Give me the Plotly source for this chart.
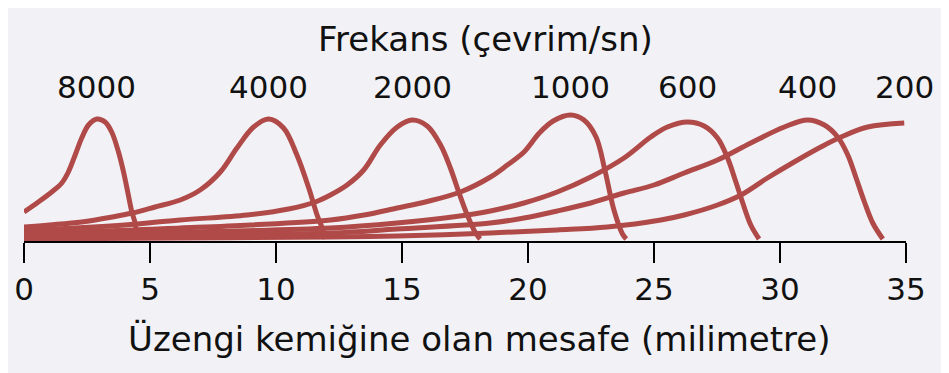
import plotly.graph_objects as go

# Distance from stapes (mm) and relative displacement for each frequency
freq_labels = ["8000", "4000", "2000", "1000", "600", "400", "200"]

x_8000 = [0, 0.57, 1.1, 1.5, 1.76, 2.03, 2.29, 2.56, 2.89, 3.22, 3.48, 3.75, 3.95, 4.14, 4.28, 4.41, 4.48]
y_8000 = [30, 40, 50, 59, 70, 87, 104, 117, 123, 120, 110, 90, 70, 47, 30, 19, 3]

x_4000 = [0, 1, 2.29, 3.5, 4.3, 5.2, 6.2, 6.99, 7.79, 8.45, 9.11, 9.71, 10.3, 10.83, 11.3, 11.63, 11.83, 11.95]
y_4000 = [15, 17, 20, 25, 29, 35, 42, 52, 70, 94, 115, 123, 114, 87, 54, 27, 14, 3]

x_2000 = [0, 2, 4, 6.2, 8.85, 10.5, 11.56, 12.16, 12.82, 13.48, 14.14, 14.81, 15.4, 16.0, 16.53, 16.92, 17.25, 17.59, 17.92, 18.1]
y_2000 = [12, 14, 17, 22, 27, 33, 40, 47, 57, 72, 97, 115, 122, 116, 97, 74, 50, 27, 9, 3]

x_1000 = [0, 3, 6.2, 9, 12.16, 13.5, 14.81, 16, 17.32, 18.51, 19.18, 19.84, 20.45, 21.0, 21.69, 22.22, 22.7, 23.05, 23.41, 23.75, 23.9]
y_1000 = [10, 11, 14, 17, 22, 27, 34, 40.5, 50, 65, 77, 90, 109, 121, 127, 122, 105, 72, 32, 8, 3]

x_600 = [0, 6.2, 12.16, 14.8, 17, 18.51, 19.84, 21.16, 22.49, 23.81, 24.87, 25.53, 26.33, 26.99, 27.52, 27.92, 28.25, 28.51, 28.84, 29.17]
y_600 = [7.5, 10, 14, 19, 25, 31, 39, 50, 65, 84, 105, 115, 120, 116, 104, 84, 60, 40, 17, 3]

x_400 = [0, 6.2, 12.16, 14.8, 18.5, 19.84, 21.16, 22.49, 23.81, 25.0, 26.2, 27.52, 28.84, 30.17, 31.1, 31.76, 32.29, 32.69, 33.02, 33.35, 33.68, 34.08]
y_400 = [5, 7, 9, 13, 19, 24, 31, 39, 49, 57, 69, 82, 99, 115, 122, 117, 105, 87, 64, 40, 19, 3]

x_200 = [0, 6.2, 12.16, 14.8, 18.5, 21.16, 23.15, 25.27, 26.2, 27.52, 28.45, 29.5, 30.56, 31.62, 32.42, 33.48, 34.93]
y_200 = [3, 4, 5, 6, 9, 12, 15, 22, 27, 37, 47, 64, 80, 95, 105, 115, 119]

x_ticks = [0, 5, 10, 15, 20, 25, 30, 35]
x_title = "Üzengi kemiğine olan mesafe (milimetre)"
top_title = "Frekans (çevrim/sn)"

series = [
    (x_8000, y_8000), (x_4000, y_4000), (x_2000, y_2000), (x_1000, y_1000),
    (x_600, y_600), (x_400, y_400), (x_200, y_200),
]

LINE = "#b04a48"
BG = "#f2f1f6"
FONT = "DejaVu Sans"
TXT = "#111111"

fig = go.Figure()
for (xs, ys), lab in zip(series, freq_labels):
    fig.add_trace(go.Scatter(
        x=xs, y=ys, mode="lines", name=lab,
        line=dict(color=LINE, width=5, shape="spline", smoothing=1.0),
        hoverinfo="skip",
    ))

annotations = []
for (xs, ys), lab in zip(series, freq_labels):
    i = max(range(len(ys)), key=lambda k: ys[k])
    annotations.append(dict(
        x=xs[i], y=1.16, xref="x", yref="paper", text=lab, showarrow=False,
        xanchor="center", yanchor="middle", font=dict(size=31, color=TXT),
    ))
annotations.append(dict(
    x=0.523, y=1.52, xref="paper", yref="paper", text=top_title, showarrow=False,
    xanchor="center", yanchor="middle", font=dict(size=34, color=TXT),
))
annotations.append(dict(
    x=0.516, y=-0.74, xref="paper", yref="paper", text=x_title, showarrow=False,
    xanchor="center", yanchor="middle", font=dict(size=34, color=TXT),
))

# page has an 8px default body margin; figure sized/offset to compensate
fig.update_layout(
    width=941, height=365,
    margin=dict(l=16, r=43, t=100, b=132),
    paper_bgcolor=BG, plot_bgcolor=BG,
    showlegend=False,
    font=dict(family=FONT, color=TXT),
    annotations=annotations,
    xaxis=dict(
        range=[0, 35], tickvals=x_ticks, ticktext=[str(v) for v in x_ticks],
        automargin=False,
        showgrid=False, zeroline=False, showline=True, linecolor="black", linewidth=2,
        ticks="outside", ticklen=20, tickwidth=2, tickcolor="black",
        tickfont=dict(size=31, color=TXT, family=FONT),
    ),
    yaxis=dict(range=[1, 134], visible=False, showgrid=False, zeroline=False,
               automargin=False),
)

fig.write_html("out.html")
